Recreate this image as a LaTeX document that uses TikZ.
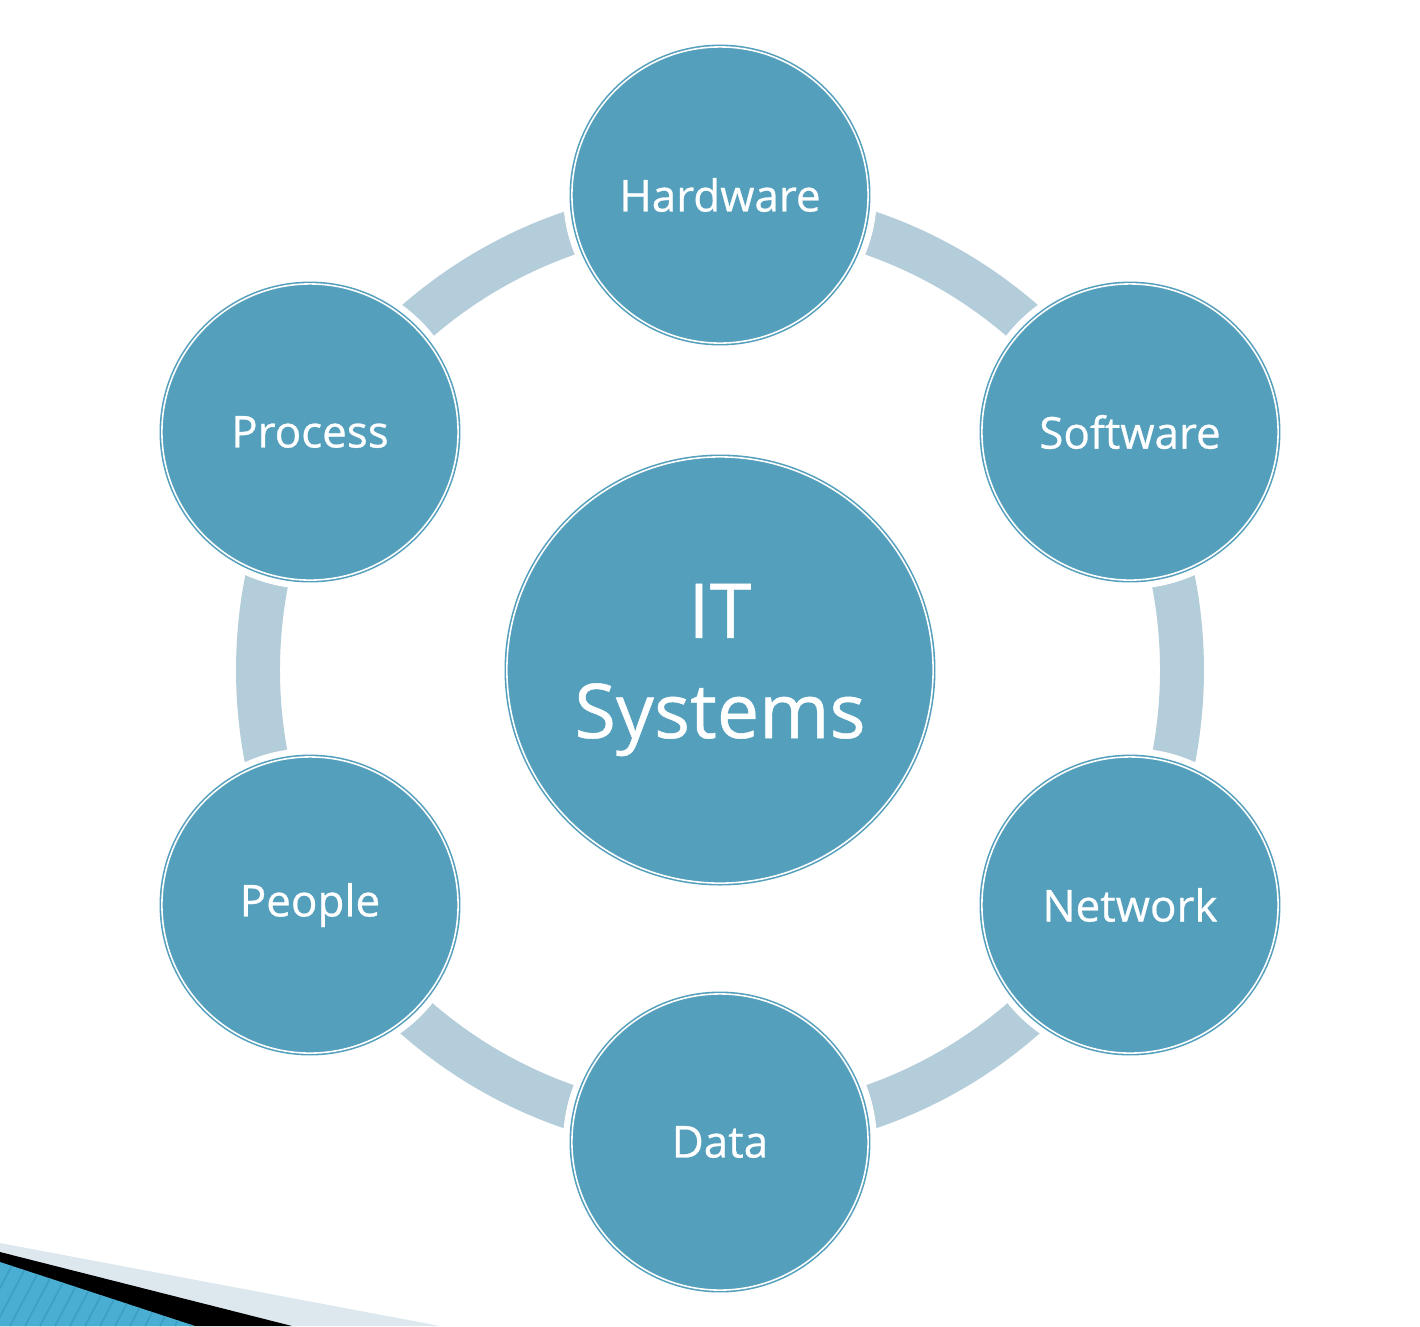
\documentclass[tikz,border=0pt]{standalone}
\usepackage{fontspec}
\setmainfont{Open Sans}
\newfontfamily\labelfont[FakeBold=0.6]{Open Sans}
\definecolor{cfill}{HTML}{549FBC}
\definecolor{cring}{HTML}{B4CDDA}
\definecolor{cband}{HTML}{DCE8EE}
\definecolor{cstripe}{HTML}{4AAED3}
\definecolor{cstripe2}{HTML}{3E9FC6}
\tikzset{
  unit/.style={x=0.01cm,y=-0.01cm},
  bubble/.style={circle, minimum size=2.96cm, inner sep=0pt, fill=cfill, draw=cfill,
    line width=0.45pt, double=white, double distance=0.45pt,
    preaction={draw=white, line width=5pt},
    text=white, font=\labelfont\fontsize{12.5}{15}\selectfont},
  hub/.style={bubble, minimum size=4.26cm, align=center, font=\labelfont\fontsize{21.5}{28.5}\selectfont},
  ring/.style={draw=cring, line width=12.5pt}
}
\begin{document}
\begin{tikzpicture}[unit]
\useasboundingbox (0,0) rectangle (1420,1326);
\coordinate (c) at (720,670);
% corner decoration
\fill[cband] (0,1243) -- (440,1326) -- (0,1326) -- cycle;
\fill[black] (0,1252) -- (292,1326) -- (0,1326) -- cycle;
\begin{scope}
\clip (0,1262) -- (195,1326) -- (0,1326) -- cycle;
\fill[cstripe] (0,1250) rectangle (200,1326);
\foreach \i in {-80,-65,...,200} {\draw[cstripe2, line width=0.5pt] (\i,1326) -- (\i+40,1250);}
\end{scope}
% ring
\draw[ring] (c) circle (462);
% nodes
\node[hub] (it) at (720,670) {IT\\Systems};
\node[bubble] (hw) at (720,195) {Hardware};
\node[bubble] (sw) at (1130,432) {Software};
\node[bubble] (nw) at (1130,905) {Network};
\node[bubble] (da) at (720,1142) {Data};
\node[bubble] (pe) at (310,905) {People};
\node[bubble] (pr) at (310,432) {Process};
\end{tikzpicture}
\end{document}
